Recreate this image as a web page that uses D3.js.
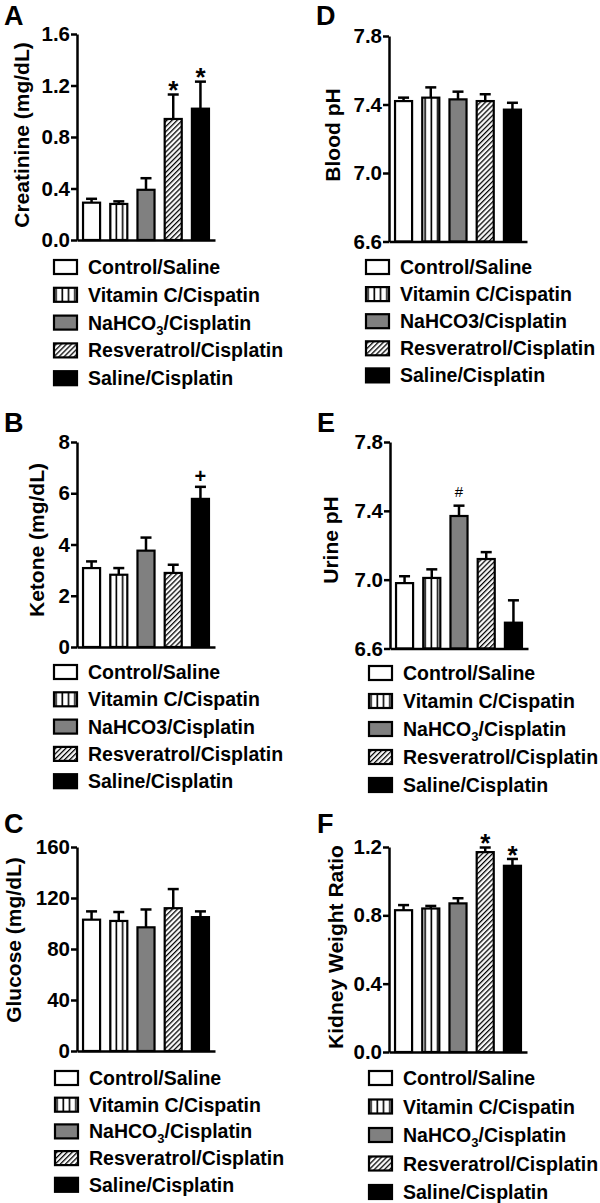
<!DOCTYPE html>
<html><head><meta charset="utf-8">
<script src="https://cdn.jsdelivr.net/npm/d3@7"></script>
<style>body{margin:0;background:#fff}svg{display:block;font-family:"Liberation Sans",Arial,sans-serif}</style>
</head><body><svg id="c" width="600" height="1203"></svg>
<script>
// ---- data ----
const groups = ["Control/Saline","Vitamin C/Cispatin","NaHCO3/Cisplatin","Resveratrol/Cisplatin","Saline/Cisplatin"];
const creatinine = [0.29,0.28,0.39,0.94,1.02];
const creatinineErr = [0.03,0.02,0.09,0.19,0.21];
const ketone = [3.08,2.82,3.76,2.89,5.78];
const ketoneErr = [0.26,0.26,0.51,0.32,0.47];
const glucose = [103,102,97,112,105];
const glucoseErr = [6.5,7,14,15,4.5];
const bloodPH = [7.42,7.44,7.43,7.42,7.37];
const bloodPHErr = [0.02,0.06,0.045,0.04,0.04];
const urinePH = [6.98,7.01,7.37,7.12,6.75];
const urinePHErr = [0.04,0.05,0.06,0.04,0.13];
const kidneyRatio = [0.83,0.84,0.87,1.17,1.09];
const kidneyRatioErr = [0.03,0.015,0.03,0.027,0.04];
const ticksCreat = [0,0.4,0.8,1.2,1.6];
const ticksKetone = [0,2,4,6,8];
const ticksGlucose = [0,40,80,120,160];
const ticksPH = [6.6,7.0,7.4,7.8];
const ticksKidney = [0,0.4,0.8,1.2];
const marksA = ["","","","*","*"];
const marksB = ["","","","","+"];
const marksC = ["","","","",""];
const marksD = ["","","","",""];
const marksE = ["","","#","",""];
const marksF = ["","","","*","*"];

const svg = d3.select("#c");
const defs = svg.append("defs");
const pv = defs.append("pattern").attr("id","vstripe").attr("patternUnits","userSpaceOnUse").attr("width",6.3).attr("height",10);
pv.append("rect").attr("width",6.3).attr("height",10).attr("fill","#fff");
pv.append("line").attr("x1",3).attr("x2",3).attr("y1",0).attr("y2",10).attr("stroke","#000").attr("stroke-width",1.6);
const pd = defs.append("pattern").attr("id","diag").attr("patternUnits","userSpaceOnUse").attr("width",3.6).attr("height",10).attr("patternTransform","rotate(45)");
pd.append("rect").attr("width",3.6).attr("height",10).attr("fill","#fff");
pd.append("line").attr("x1",1.5).attr("x2",1.5).attr("y1",0).attr("y2",10).attr("stroke","#000").attr("stroke-width",1.3);
const fills = ["#fff","url(#vstripe)","#808080","url(#diag)","#000"];

const panels = [
 {letter:"A",lx:4,ly:25,ax:77,top:34,bottom:240,domain:[0,1.6],ticks:ticksCreat,fmt:".1f",title:"Creatinine (mg/dL)",tx:29,ty:135,vals:creatinine,errs:creatinineErr,marks:marksA,legX:53,legY:267,legStep:27.8,sub:true},
 {letter:"B",lx:4,ly:432,ax:77,top:442,bottom:647,domain:[0,8],ticks:ticksKetone,fmt:"d",title:"Ketone (mg/dL)",tx:44,ty:540,vals:ketone,errs:ketoneErr,marks:marksB,legX:53,legY:672,legStep:27.3,sub:false},
 {letter:"C",lx:4,ly:833,ax:77,top:847,bottom:1051,domain:[0,160],ticks:ticksGlucose,fmt:"d",title:"Glucose (mg/dL)",tx:21,ty:940,vals:glucose,errs:glucoseErr,marks:marksC,legX:54,legY:1078,legStep:26.7,sub:true},
 {letter:"D",lx:316,ly:25,ax:389,top:36,bottom:241.5,domain:[6.6,7.8],ticks:ticksPH,fmt:".1f",title:"Blood pH",tx:340,ty:135,vals:bloodPH,errs:bloodPHErr,marks:marksD,legX:365,legY:267,legStep:27.1,sub:false},
 {letter:"E",lx:317,ly:432,ax:390,top:442,bottom:648.5,domain:[6.6,7.8],ticks:ticksPH,fmt:".1f",title:"Urine pH",tx:338,ty:540,vals:urinePH,errs:urinePHErr,marks:marksE,legX:368,legY:673,legStep:28,sub:true},
 {letter:"F",lx:317,ly:833,ax:389,top:847,bottom:1052,domain:[0,1.2],ticks:ticksKidney,fmt:".1f",title:"Kidney Weight Ratio",tx:343,ty:947,vals:kidneyRatio,errs:kidneyRatioErr,marks:marksF,legX:368,legY:1078,legStep:28.5,sub:true}
];

panels.forEach(p => {
  const g = svg.append("g");
  const y = d3.scaleLinear().domain(p.domain).range([p.bottom,p.top]);
  const x = d3.scaleBand().domain(groups).range([p.ax,p.ax+138]).paddingInner(0.3).paddingOuter(0.185);
  const data = groups.map((k,i)=>({k,v:p.vals[i],e:p.errs[i],m:p.marks[i],f:fills[i]}));

  g.append("text").attr("x",p.lx).attr("y",p.ly).attr("font-size",27).attr("font-weight","bold").text(p.letter);
  g.append("text").attr("transform",`translate(${p.tx},${p.ty}) rotate(-90)`).attr("text-anchor","middle")
    .attr("font-size",21).attr("font-weight","bold").text(p.title);

  // error bars
  const eb = g.selectAll(".eb").data(data).enter().append("g");
  eb.append("line").attr("x1",d=>x(d.k)+x.bandwidth()/2).attr("x2",d=>x(d.k)+x.bandwidth()/2)
    .attr("y1",d=>y(d.v)).attr("y2",d=>y(d.v+d.e)).attr("stroke","#000").attr("stroke-width",2.5);
  eb.append("line").attr("x1",d=>x(d.k)+x.bandwidth()/2-5.5).attr("x2",d=>x(d.k)+x.bandwidth()/2+5.5)
    .attr("y1",d=>y(d.v+d.e)).attr("y2",d=>y(d.v+d.e)).attr("stroke","#000").attr("stroke-width",2.5);
  // bars
  g.selectAll(".bar").data(data).enter().append("rect")
    .attr("x",d=>x(d.k)+1).attr("width",x.bandwidth()-2)
    .attr("y",d=>y(d.v)).attr("height",d=>y(p.domain[0])-y(d.v))
    .attr("fill",d=>d.f).attr("stroke","#000").attr("stroke-width",2.2);
  // significance marks
  g.selectAll(".mk").data(data.filter(d=>d.m)).enter().append("text")
    .attr("x",d=>x(d.k)+x.bandwidth()/2).attr("text-anchor","middle")
    .attr("y",d=> d.m==="*" ? y(d.v+d.e)-10+0.57*26 : (d.m==="+" ? y(d.v+d.e)-10+0.3*20 : y(d.v+d.e)-14+0.35*15))
    .attr("font-size",d=> d.m==="*"?26:(d.m==="+"?20:15))
    .attr("font-weight",d=> d.m==="#"?"normal":"bold")
    .text(d=>d.m);

  // axes
  const ya = g.append("g").attr("transform",`translate(${p.ax},0)`)
    .call(d3.axisLeft(y).tickValues(p.ticks).tickSize(6).tickSizeOuter(0).tickPadding(1).tickFormat(d3.format(p.fmt)));
  ya.select(".domain").attr("stroke-width",2.5);
  ya.selectAll(".tick line").attr("stroke-width",2.5);
  ya.selectAll(".tick text").attr("font-size",20.5).attr("font-weight","bold").attr("fill","#000")
    .attr("font-family",'"Liberation Sans",Arial,sans-serif');
  const xa = g.append("g").attr("transform",`translate(0,${p.bottom})`)
    .call(d3.axisBottom(x).tickSize(0).tickSizeOuter(0).tickFormat(""));
  xa.select(".domain").attr("stroke-width",2.5);

  // legend
  const lg = g.selectAll(".lg").data(data).enter().append("g")
    .attr("transform",(d,i)=>`translate(${p.legX},${p.legY+i*p.legStep})`);
  lg.append("rect").attr("x",1).attr("y",-7).attr("width",23).attr("height",14).attr("fill",d=>d.f).attr("stroke","#000").attr("stroke-width",2.2);
  lg.each(function(d){
    const t = d3.select(this).append("text").attr("x",35).attr("y",7).attr("font-size",19.5).attr("font-weight","bold");
    if (p.sub && d.k.includes("NaHCO3")) {
      t.append("tspan").text("NaHCO");
      t.append("tspan").attr("dy",5).attr("font-size",13).text("3");
      t.append("tspan").attr("dy",-5).text("/Cisplatin");
    } else t.text(d.k);
  });
});
</script></body></html>
